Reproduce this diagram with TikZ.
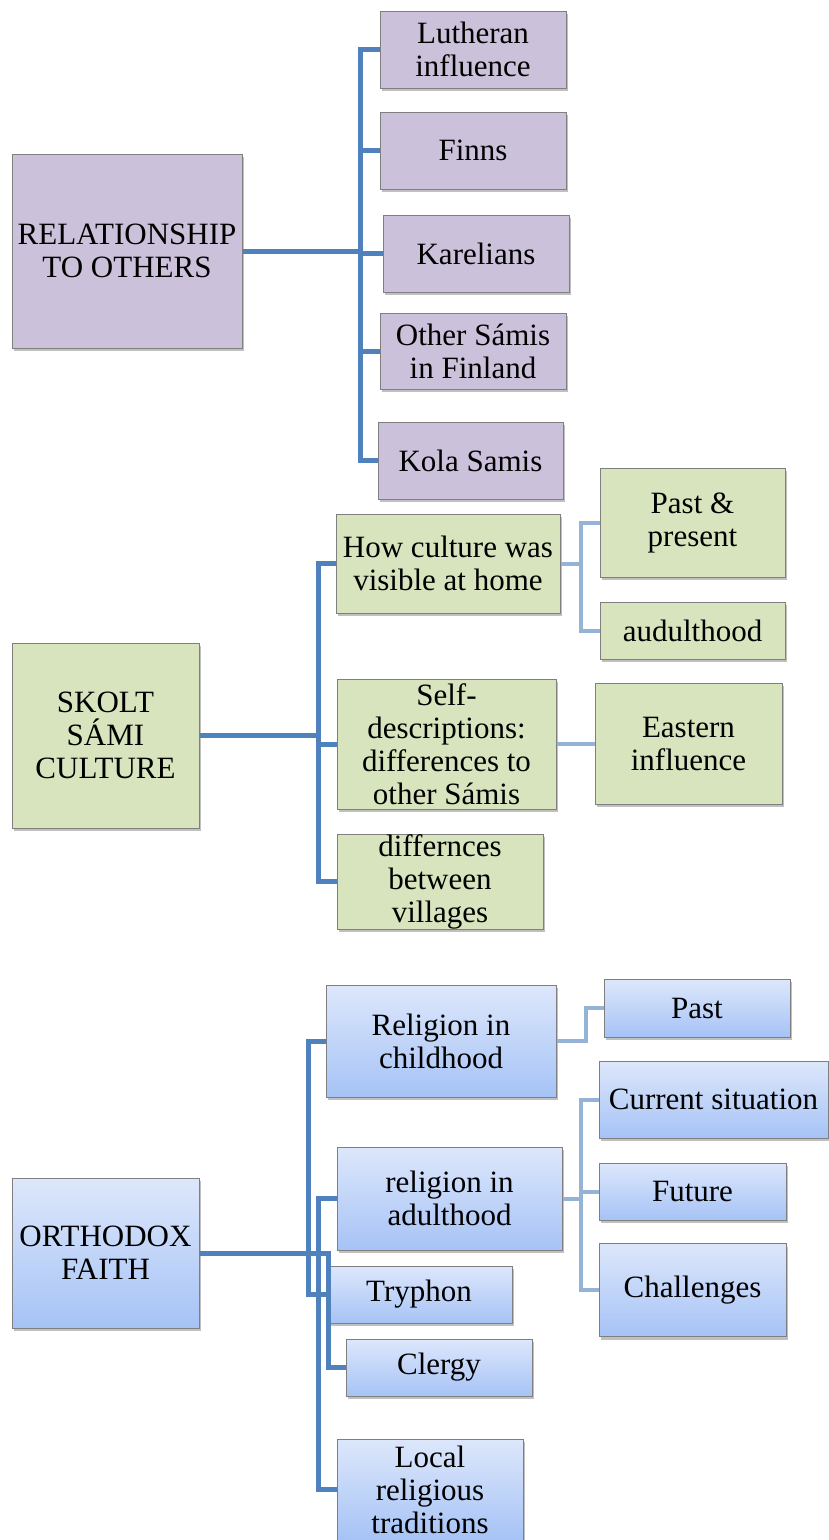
\documentclass[tikz,border=0pt]{standalone}
\usepackage{fontspec}
\setmainfont{Liberation Serif}
\usetikzlibrary{shadows}

\definecolor{linkblue}{HTML}{4F81BD}
\definecolor{linklight}{HTML}{95B3D7}
\definecolor{lilac}{HTML}{CCC1DA}
\definecolor{sage}{HTML}{D7E4BD}
\definecolor{skytop}{HTML}{DDE7FB}
\definecolor{skybottom}{HTML}{A6C3F6}
\definecolor{rim}{HTML}{7F7F7F}

\begin{document}
\begin{tikzpicture}[x=1pt, y=-1pt,
        box/.style={draw=rim, line width=1pt, inner sep=0pt, align=center,
            font=\fontsize{31}{33}\selectfont,
            drop shadow={shadow xshift=2pt, shadow yshift=-3pt, fill=black!45, opacity=.55}},
        sz/.style 2 args={minimum width=#1pt, minimum height=#2pt},
        lilacbox/.style={box, fill=lilac},
        sagebox/.style={box, fill=sage},
        skybox/.style={box, top color=skytop, bottom color=skybottom},
        mainlink/.style={draw=linkblue, line width=5pt},
        sublink/.style={draw=linklight, line width=4pt}]
            \useasboundingbox (0,0) rectangle (828,1540);

            % relationship to others
            \node[lilacbox, sz={230}{194}] (rel) at (127,251) {RELATIONSHIP\\TO OTHERS};
            \node[lilacbox, sz={186}{77}] (luth) at (473,49.5) {Lutheran\\influence};
            \node[lilacbox, sz={186}{77}] (finns) at (473,150.5) {Finns};
            \node[lilacbox, sz={186}{77}] (karel) at (476,253.5) {Karelians};
            \node[lilacbox, sz={186}{76}] (osami) at (473,351) {Other Sámis\\in Finland};
            \node[lilacbox, sz={185}{77}] (kola) at (470.5,460.5) {Kola Samis};

            % skolt sami culture
            \node[sagebox, sz={187}{185}] (skolt) at (105.5,735.5) {SKOLT\\SÁMI\\CULTURE};
            \node[sagebox, sz={224}{99}] (home) at (448,563.5) {How culture was\\visible at home};
            \node[sagebox, sz={185}{109}] (pastp) at (692.5,522.5) {Past \&\\present};
            \node[sagebox, sz={185}{57}] (adult1) at (692.5,630.5) {audulthood};
            \node[sagebox, sz={219}{130}] (selfd) at (446.5,744) {Self-\\descriptions:\\differences to\\other Sámis};
            \node[sagebox, sz={187}{121}] (eastern) at (688.5,743.5) {Eastern\\influence};
            \node[sagebox, sz={206}{95}] (villages) at (440,881.5) {differnces\\between\\villages};

            % orthodox faith
            \node[skybox, sz={187}{150}] (orth) at (105.5,1253) {ORTHODOX\\FAITH};
            \node[skybox, sz={230}{112}] (childh) at (441,1041) {Religion in\\childhood};
            \node[skybox, sz={186}{58}] (pastb) at (697,1008) {Past};
            \node[skybox, sz={229}{77}] (current) at (713.5,1099.5) {Current situation};
            \node[skybox, sz={225}{103}] (adulth) at (449.5,1198.5) {religion in\\adulthood};
            \node[skybox, sz={187}{57}] (future) at (692.5,1191.5) {Future};
            \node[skybox, sz={187}{93}] (chall) at (692.5,1290) {Challenges};
            \node[skybox, sz={186}{57}] (tryph) at (419,1294.5) {Tryphon};
            \node[skybox, sz={186}{57}] (clergy) at (439,1367.5) {Clergy};
            \node[skybox, sz={186}{101}] (local) at (430,1489.5) {Local\\religious\\traditions};

            % buses
            \coordinate (relbus) at (360,0);
            \coordinate (skoltbus) at (318.5,0);
            \coordinate (homebus) at (581,0);
            \coordinate (orthbusa) at (308,0);
            \coordinate (orthbusb) at (318,0);
            \coordinate (orthbusc) at (328,0);
            \coordinate (childbus) at (586,0);
            \coordinate (adultbus) at (581,0);

            % connectors
            \foreach \n in {luth,finns,karel,osami,kola}
                \draw[mainlink] (rel.east) -- (rel.east -| relbus) |- (\n.west);

            \foreach \n in {home,selfd,villages}
                \draw[mainlink] (skolt.east) -- (skolt.east -| skoltbus) |- (\n.west);
            \foreach \n in {pastp,adult1}
                \draw[sublink] (home.east) -- (home.east -| homebus) |- (\n.west);
            \draw[sublink] (selfd.east) -- (selfd.east -| eastern.west);

            \foreach \n in {childh,tryph}
                \draw[mainlink] (orth.east) -- (orth.east -| orthbusa) |- (\n.west);
            \foreach \n in {adulth,local}
                \draw[mainlink] (orth.east) -- (orth.east -| orthbusb) |- (\n.west);
            \draw[mainlink] (orth.east) -- (orth.east -| orthbusc) |- (clergy.west);
            \draw[sublink] (childh.east) -- (childh.east -| childbus) |- (pastb.west);
            \foreach \n in {current,future,chall}
                \draw[sublink] (adulth.east) -- (adulth.east -| adultbus) |- (\n.west);
        \end{tikzpicture}
\end{document}
